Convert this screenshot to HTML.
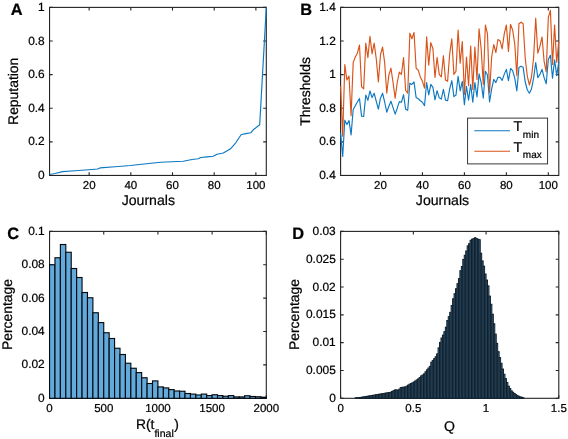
<!DOCTYPE html>
<html lang="en">
<head>
<meta charset="utf-8">
<title>Figure</title>
<style>html,body{margin:0;padding:0;background:#fff}body{width:568px;height:439px;overflow:hidden}svg{display:block}text{text-rendering:geometricPrecision;stroke:#000;stroke-width:0.22px;paint-order:stroke}</style>
</head>
<body>
<svg width="568" height="439" viewBox="0 0 568 439" font-family='"Liberation Sans", "DejaVu Sans", sans-serif' fill="#000">
<rect width="568" height="439" fill="#fff"/>
<g id="panelA">
<rect x="49.55" y="7.4" width="216.75" height="168.05" fill="none" stroke="#242424" stroke-width="1.1"/>
<path d="M89.15 175.45v-3.1M89.15 7.4v3.1M130.83 175.45v-3.1M130.83 7.4v3.1M172.51 175.45v-3.1M172.51 7.4v3.1M214.2 175.45v-3.1M214.2 7.4v3.1M255.88 175.45v-3.1M255.88 7.4v3.1M49.55 175.45h3.1M266.3 175.45h-3.1M49.55 141.84h3.1M266.3 141.84h-3.1M49.55 108.23h3.1M266.3 108.23h-3.1M49.55 74.62h3.1M266.3 74.62h-3.1M49.55 41.01h3.1M266.3 41.01h-3.1M49.55 7.4h3.1M266.3 7.4h-3.1" fill="none" stroke="#242424" stroke-width="1.1"/>
<g font-size="11.5" text-anchor="middle">
<text x="89.15" y="189.4">20</text>
<text x="130.83" y="189.4">40</text>
<text x="172.51" y="189.4">60</text>
<text x="214.2" y="189.4">80</text>
<text x="255.88" y="189.4">100</text>
</g>
<g font-size="11.9" text-anchor="end">
<text x="44.7" y="178.95">0</text>
<text x="44.7" y="145.34">0.2</text>
<text x="44.7" y="111.73">0.4</text>
<text x="44.7" y="78.12">0.6</text>
<text x="44.7" y="44.51">0.8</text>
<text x="44.7" y="10.9">1</text>
</g>
<path d="M49.6 174.55L55 173.5L62.5 171.6L75 170.7L88.75 169.8L97.5 169.05L100 167.9L115 166.7L130.5 165.55L141.75 164.2L160.75 162.3L172 161.8L183.25 161.3L192 159.5L198.25 158.8L200.75 157.5L207 156.9L213.25 156.3L217 154.2L223.25 153.05L230.25 149.05L235.75 142.8L241.25 134.55L246 133.6L250.75 132.8L253.25 129.8L259.7 124.8L266.3 7.4" fill="none" stroke="#0c78c2" stroke-width="1.15" stroke-linejoin="round" stroke-linecap="butt"/>
<text transform="translate(18.2 91.3) rotate(-90)" font-size="13.9" text-anchor="middle">Reputation</text>
<text x="148.3" y="205" font-size="14.1" text-anchor="middle">Journals</text>
<text x="10.8" y="14.6" font-size="16.4" font-weight="bold" fill="#000">A</text>
</g>
<g id="panelB">
<rect x="340.6" y="7.4" width="218.2" height="168.05" fill="none" stroke="#242424" stroke-width="1.1"/>
<path d="M380.46 175.45v-3.1M380.46 7.4v3.1M422.43 175.45v-3.1M422.43 7.4v3.1M464.39 175.45v-3.1M464.39 7.4v3.1M506.35 175.45v-3.1M506.35 7.4v3.1M548.31 175.45v-3.1M548.31 7.4v3.1M340.6 175.45h3.1M558.8 175.45h-3.1M340.6 141.84h3.1M558.8 141.84h-3.1M340.6 108.23h3.1M558.8 108.23h-3.1M340.6 74.62h3.1M558.8 74.62h-3.1M340.6 41.01h3.1M558.8 41.01h-3.1M340.6 7.4h3.1M558.8 7.4h-3.1" fill="none" stroke="#242424" stroke-width="1.1"/>
<g font-size="11.5" text-anchor="middle">
<text x="380.46" y="189.4">20</text>
<text x="422.43" y="189.4">40</text>
<text x="464.39" y="189.4">60</text>
<text x="506.35" y="189.4">80</text>
<text x="548.31" y="189.4">100</text>
</g>
<g font-size="11.9" text-anchor="end">
<text x="335.75" y="178.95">0.4</text>
<text x="335.75" y="145.34">0.6</text>
<text x="335.75" y="111.73">0.8</text>
<text x="335.75" y="78.12">1</text>
<text x="335.75" y="44.51">1.2</text>
<text x="335.75" y="10.9">1.4</text>
</g>
<path d="M340.6 133L342.7 156.4L344.8 120.2L346.89 124.5L348.99 120.4L351.09 135L353.19 109.5L355.29 105.7L357.38 102L359.48 98.6L361.58 116.1L363.68 116.4L365.78 95L367.88 100.4L369.97 90.9L372.07 97.6L374.17 93.2L376.27 101.3L378.37 109.1L380.46 98.2L382.56 93.2L384.66 102L386.76 112.2L388.86 106.3L390.95 101.3L393.05 107.6L395.15 114.1L397.25 108.2L399.35 101.6L401.44 102.3L403.54 94.7L405.64 109.2L407.74 110.3L409.84 83.2L411.93 84.4L414.03 81.9L416.13 97.6L418.23 98.8L420.33 100.7L422.43 102.3L424.52 105.7L426.62 82.5L428.72 94.8L430.82 84.4L432.92 87.3L435.01 99.8L437.11 90.7L439.21 97.8L441.31 99.1L443.41 89.4L445.5 100.1L447.6 100.7L449.7 88.8L451.8 80.7L453.9 96.6L455.99 95.1L458.09 76.3L460.19 90.9L462.29 81.3L464.39 104.8L466.48 86.3L468.58 100.1L470.68 84.4L472.78 102.2L474.88 82.5L476.98 97L479.07 73.8L481.17 82.6L483.27 98.2L485.37 71.3L487.47 75L489.56 102L491.66 88.8L493.76 79.4L495.86 82.6L497.96 77.3L500.05 77.3L502.15 80.4L504.25 74.4L506.35 69.4L508.45 80.7L510.54 68.5L512.64 70.7L514.74 78.2L516.84 91L518.94 67.5L521.03 66.3L523.13 67.2L525.23 82L527.33 90L529.43 93.2L531.52 88.8L533.62 78.2L535.72 62.5L537.82 77.6L539.92 74.4L542.02 69.4L544.11 77.6L546.21 83.8L548.31 59.4L550.41 55.3L552.51 78.2L554.6 59.8L556.7 75.7L558.8 61.9" fill="none" stroke="#0c78c2" stroke-width="1.15" stroke-linejoin="round" stroke-linecap="butt"/>
<path d="M340.6 86L342.7 136.3L344.8 64.5L346.89 80L348.99 76L351.09 115.7L353.19 62.6L355.29 57L357.38 53.2L359.48 45L361.58 86.9L363.68 88.8L365.78 43.2L367.88 57.6L369.97 36.3L372.07 53.8L374.17 43.2L376.27 58.8L378.37 81.9L380.46 55L382.56 47L384.66 62.6L386.76 93.2L388.86 75L390.95 68.2L393.05 82.5L395.15 98.2L397.25 82.5L399.35 72L401.44 74.5L403.54 57.6L405.64 90.5L407.74 93.2L409.84 33.2L411.93 38.8L414.03 32.5L416.13 68.2L418.23 70.1L420.33 76.9L422.43 81.3L424.52 88.2L426.62 36.9L428.72 65.1L430.82 42.6L432.92 48.8L435.01 77.5L437.11 57.3L439.21 74.4L441.31 76.9L443.41 55.7L445.5 80L447.6 81.3L449.7 53.8L451.8 38.8L453.9 74.4L455.99 71.3L458.09 30L460.19 63.2L462.29 41.5L464.39 94.4L466.48 57L468.58 85.7L470.68 46L472.78 89.4L474.88 47L476.98 79.4L479.07 28.8L481.17 48.8L483.27 84.4L485.37 25L487.47 33.8L489.56 92.6L491.66 57L493.76 44.5L495.86 52.6L497.96 39.5L500.05 40.7L502.15 48.9L504.25 33.8L506.35 25L508.45 51.4L510.54 24.4L512.64 30L514.74 43.8L516.84 75.7L518.94 23.8L521.03 22.2L523.13 23.8L525.23 58.2L527.33 76.3L529.43 85L531.52 77L533.62 57.5L535.72 18.2L537.82 53.2L539.92 46.4L542.02 37L544.11 61.3L546.21 72L548.31 17.5L550.41 10.3L552.51 64.4L554.6 25L556.7 62.5L558.8 41.3" fill="none" stroke="#d95319" stroke-width="1.15" stroke-linejoin="round" stroke-linecap="butt"/>
<rect x="467.6" y="118.1" width="80" height="45.8" fill="#fff" stroke="#242424" stroke-width="0.9"/>
<path d="M474.3 130.75H510" stroke="#0c78c2" stroke-width="1.15"/>
<path d="M474.3 151.25H510" stroke="#d95319" stroke-width="1.15"/>
<text x="513.6" y="131" font-size="14.2">T<tspan font-size="10" dy="6.6" dx="0.6">min</tspan></text>
<text x="513.6" y="151.6" font-size="14.2">T<tspan font-size="10" dy="6.6" dx="0.6">max</tspan></text>
<text transform="translate(309.5 91.5) rotate(-90)" font-size="13.9" text-anchor="middle">Thresholds</text>
<text x="442.5" y="205" font-size="14.1" text-anchor="middle">Journals</text>
<text x="300.2" y="14.6" font-size="16.4" font-weight="bold" fill="#000">B</text>
</g>
<g id="panelC">
<rect x="49.55" y="231.4" width="216.75" height="166.9" fill="none" stroke="#242424" stroke-width="1.1"/>
<path d="M49.55 398.3v-3.1M49.55 231.4v3.1M103.74 398.3v-3.1M103.74 231.4v3.1M157.93 398.3v-3.1M157.93 231.4v3.1M212.11 398.3v-3.1M212.11 231.4v3.1M266.3 398.3v-3.1M266.3 231.4v3.1M49.55 398.3h3.1M266.3 398.3h-3.1M49.55 364.92h3.1M266.3 364.92h-3.1M49.55 331.54h3.1M266.3 331.54h-3.1M49.55 298.16h3.1M266.3 298.16h-3.1M49.55 264.78h3.1M266.3 264.78h-3.1M49.55 231.4h3.1M266.3 231.4h-3.1" fill="none" stroke="#242424" stroke-width="1.1"/>
<g fill="#62a9dc" stroke="#05090d" stroke-width="1.12">
<rect x="49.55" y="264.75" width="5.42" height="133.55"/>
<rect x="54.97" y="257.75" width="5.42" height="140.55"/>
<rect x="60.39" y="244.5" width="5.42" height="153.8"/>
<rect x="65.81" y="252.25" width="5.42" height="146.05"/>
<rect x="71.22" y="268.5" width="5.42" height="129.8"/>
<rect x="76.64" y="277.5" width="5.42" height="120.8"/>
<rect x="82.06" y="292.5" width="5.42" height="105.8"/>
<rect x="87.48" y="297.75" width="5.42" height="100.55"/>
<rect x="92.9" y="312.75" width="5.42" height="85.55"/>
<rect x="98.32" y="322.6" width="5.42" height="75.7"/>
<rect x="103.74" y="332.75" width="5.42" height="65.55"/>
<rect x="109.16" y="338.5" width="5.42" height="59.8"/>
<rect x="114.58" y="348.25" width="5.42" height="50.05"/>
<rect x="119.99" y="354.5" width="5.42" height="43.8"/>
<rect x="125.41" y="363.25" width="5.42" height="35.05"/>
<rect x="130.83" y="368.25" width="5.42" height="30.05"/>
<rect x="136.25" y="372.6" width="5.42" height="25.7"/>
<rect x="141.67" y="377.75" width="5.42" height="20.55"/>
<rect x="147.09" y="383.5" width="5.42" height="14.8"/>
<rect x="152.51" y="380.9" width="5.42" height="17.4"/>
<rect x="157.93" y="386.9" width="5.42" height="11.4"/>
<rect x="163.34" y="387.9" width="5.42" height="10.4"/>
<rect x="168.76" y="389.6" width="5.42" height="8.7"/>
<rect x="174.18" y="391" width="5.42" height="7.3"/>
<rect x="179.6" y="391.25" width="5.42" height="7.05"/>
<rect x="185.02" y="393.5" width="5.42" height="4.8"/>
<rect x="190.44" y="394.1" width="5.42" height="4.2"/>
<rect x="195.86" y="395" width="5.42" height="3.3"/>
<rect x="201.27" y="394.1" width="5.42" height="4.2"/>
<rect x="206.69" y="395.6" width="5.42" height="2.7"/>
<rect x="212.11" y="394.75" width="5.42" height="3.55"/>
<rect x="217.53" y="395.6" width="5.42" height="2.7"/>
<rect x="222.95" y="396.25" width="5.42" height="2.05"/>
<rect x="228.37" y="395.6" width="5.42" height="2.7"/>
<rect x="233.79" y="396.9" width="5.42" height="1.4"/>
<rect x="239.21" y="396.9" width="5.42" height="1.4"/>
<rect x="244.62" y="395.75" width="5.42" height="2.55"/>
<rect x="250.04" y="396.5" width="5.42" height="1.8"/>
<rect x="255.46" y="396.75" width="5.42" height="1.55"/>
<rect x="260.88" y="397.2" width="5.42" height="1.1"/>
</g>
<g font-size="11.5" text-anchor="middle">
<text x="49.55" y="412.25">0</text>
<text x="103.74" y="412.25">500</text>
<text x="157.93" y="412.25">1000</text>
<text x="212.11" y="412.25">1500</text>
<text x="266.3" y="412.25">2000</text>
</g>
<g font-size="11.9" text-anchor="end">
<text x="44.7" y="401.8">0</text>
<text x="44.7" y="368.42">0.02</text>
<text x="44.7" y="335.04">0.04</text>
<text x="44.7" y="301.66">0.06</text>
<text x="44.7" y="268.28">0.08</text>
<text x="44.7" y="234.9">0.1</text>
</g>
<text transform="translate(11.6 314.5) rotate(-90)" font-size="13.9" text-anchor="middle">Percentage</text>
<text x="157.4" y="429.4" font-size="13.9" text-anchor="middle">R(t<tspan font-size="10.5" dy="7.4">final</tspan><tspan dy="-7.4" dx="0.5">)</tspan></text>
<text x="7.3" y="239.2" font-size="16.4" font-weight="bold" fill="#000">C</text>
</g>
<g id="panelD">
<rect x="340.6" y="231.4" width="218.2" height="166.9" fill="none" stroke="#242424" stroke-width="1.1"/>
<path d="M340.6 398.3v-3.1M340.6 231.4v3.1M413.33 398.3v-3.1M413.33 231.4v3.1M486.07 398.3v-3.1M486.07 231.4v3.1M558.8 398.3v-3.1M558.8 231.4v3.1M340.6 398.3h3.1M558.8 398.3h-3.1M340.6 370.48h3.1M558.8 370.48h-3.1M340.6 342.67h3.1M558.8 342.67h-3.1M340.6 314.85h3.1M558.8 314.85h-3.1M340.6 287.03h3.1M558.8 287.03h-3.1M340.6 259.22h3.1M558.8 259.22h-3.1M340.6 231.4h3.1M558.8 231.4h-3.1" fill="none" stroke="#242424" stroke-width="1.1"/>
<g fill="#3a6a8c" stroke="#101e2a" stroke-width="0.97">
<rect x="355.15" y="397.81" width="1.45" height="0.49"/>
<rect x="356.6" y="397.72" width="1.45" height="0.58"/>
<rect x="358.06" y="397.64" width="1.45" height="0.66"/>
<rect x="359.51" y="397.47" width="1.45" height="0.83"/>
<rect x="360.97" y="397.23" width="1.45" height="1.07"/>
<rect x="362.42" y="396.98" width="1.45" height="1.32"/>
<rect x="363.87" y="396.74" width="1.45" height="1.56"/>
<rect x="365.33" y="396.49" width="1.45" height="1.81"/>
<rect x="366.78" y="396.25" width="1.45" height="2.05"/>
<rect x="368.24" y="396.01" width="1.45" height="2.29"/>
<rect x="369.69" y="395.76" width="1.45" height="2.54"/>
<rect x="371.15" y="395.52" width="1.45" height="2.78"/>
<rect x="372.6" y="395.26" width="1.45" height="3.04"/>
<rect x="374.06" y="395.01" width="1.45" height="3.29"/>
<rect x="375.51" y="394.75" width="1.45" height="3.55"/>
<rect x="376.97" y="394.5" width="1.45" height="3.8"/>
<rect x="378.42" y="394.25" width="1.45" height="4.05"/>
<rect x="379.88" y="393.99" width="1.45" height="4.31"/>
<rect x="381.33" y="393.74" width="1.45" height="4.56"/>
<rect x="382.79" y="393.49" width="1.45" height="4.81"/>
<rect x="384.24" y="393.24" width="1.45" height="5.06"/>
<rect x="385.69" y="392.99" width="1.45" height="5.31"/>
<rect x="387.15" y="392.74" width="1.45" height="5.56"/>
<rect x="388.6" y="392.49" width="1.45" height="5.81"/>
<rect x="390.06" y="392.22" width="1.45" height="6.08"/>
<rect x="391.51" y="391.45" width="1.45" height="6.85"/>
<rect x="392.97" y="390.68" width="1.45" height="7.62"/>
<rect x="394.42" y="389.91" width="1.45" height="8.39"/>
<rect x="395.88" y="389.88" width="1.45" height="8.42"/>
<rect x="397.33" y="390.35" width="1.45" height="7.95"/>
<rect x="398.79" y="389.07" width="1.45" height="9.23"/>
<rect x="400.24" y="387.56" width="1.45" height="10.74"/>
<rect x="401.7" y="387.32" width="1.45" height="10.98"/>
<rect x="403.15" y="387.14" width="1.45" height="11.16"/>
<rect x="404.61" y="386.95" width="1.45" height="11.35"/>
<rect x="406.06" y="386.15" width="1.45" height="12.15"/>
<rect x="407.51" y="385.12" width="1.45" height="13.18"/>
<rect x="408.97" y="384.22" width="1.45" height="14.08"/>
<rect x="410.42" y="383.51" width="1.45" height="14.79"/>
<rect x="411.88" y="382.8" width="1.45" height="15.5"/>
<rect x="413.33" y="381.91" width="1.45" height="16.39"/>
<rect x="414.79" y="380.89" width="1.45" height="17.41"/>
<rect x="416.24" y="379.87" width="1.45" height="18.43"/>
<rect x="417.7" y="378.84" width="1.45" height="19.46"/>
<rect x="419.15" y="377.51" width="1.45" height="20.79"/>
<rect x="420.61" y="375.89" width="1.45" height="22.41"/>
<rect x="422.06" y="375.02" width="1.45" height="23.28"/>
<rect x="423.52" y="373.82" width="1.45" height="24.48"/>
<rect x="424.97" y="371.79" width="1.45" height="26.51"/>
<rect x="426.43" y="369.79" width="1.45" height="28.51"/>
<rect x="427.88" y="368.06" width="1.45" height="30.24"/>
<rect x="429.33" y="366.33" width="1.45" height="31.97"/>
<rect x="430.79" y="362.16" width="1.45" height="36.14"/>
<rect x="432.24" y="360.42" width="1.45" height="37.88"/>
<rect x="433.7" y="358.62" width="1.45" height="39.68"/>
<rect x="435.15" y="356.73" width="1.45" height="41.57"/>
<rect x="436.61" y="353.83" width="1.45" height="44.47"/>
<rect x="438.06" y="347.83" width="1.45" height="50.47"/>
<rect x="439.52" y="342.41" width="1.45" height="55.89"/>
<rect x="440.97" y="338.01" width="1.45" height="60.29"/>
<rect x="442.43" y="335.1" width="1.45" height="63.2"/>
<rect x="443.88" y="331.69" width="1.45" height="66.61"/>
<rect x="445.34" y="327.2" width="1.45" height="71.1"/>
<rect x="446.79" y="320.5" width="1.45" height="77.8"/>
<rect x="448.25" y="316.64" width="1.45" height="81.66"/>
<rect x="449.7" y="312.33" width="1.45" height="85.97"/>
<rect x="451.15" y="305.45" width="1.45" height="92.85"/>
<rect x="452.61" y="298.76" width="1.45" height="99.54"/>
<rect x="454.06" y="293.72" width="1.45" height="104.58"/>
<rect x="455.52" y="288.69" width="1.45" height="109.61"/>
<rect x="456.97" y="283.65" width="1.45" height="114.65"/>
<rect x="458.43" y="278.61" width="1.45" height="119.69"/>
<rect x="459.88" y="270.7" width="1.45" height="127.6"/>
<rect x="461.34" y="266.48" width="1.45" height="131.82"/>
<rect x="462.79" y="259.43" width="1.45" height="138.87"/>
<rect x="464.25" y="255.24" width="1.45" height="143.06"/>
<rect x="465.7" y="250.98" width="1.45" height="147.32"/>
<rect x="467.16" y="245.87" width="1.45" height="152.43"/>
<rect x="468.61" y="243.68" width="1.45" height="154.62"/>
<rect x="470.07" y="240.32" width="1.45" height="157.98"/>
<rect x="471.52" y="239.2" width="1.45" height="159.1"/>
<rect x="472.97" y="238.62" width="1.45" height="159.68"/>
<rect x="474.43" y="237.7" width="1.45" height="160.6"/>
<rect x="475.88" y="238.62" width="1.45" height="159.68"/>
<rect x="477.34" y="239.19" width="1.45" height="159.11"/>
<rect x="478.79" y="239.67" width="1.45" height="158.63"/>
<rect x="480.25" y="253.17" width="1.45" height="145.13"/>
<rect x="481.7" y="260.91" width="1.45" height="137.39"/>
<rect x="483.16" y="266.15" width="1.45" height="132.15"/>
<rect x="484.61" y="274.01" width="1.45" height="124.29"/>
<rect x="486.07" y="280.08" width="1.45" height="118.22"/>
<rect x="487.52" y="285.83" width="1.45" height="112.47"/>
<rect x="488.98" y="296.09" width="1.45" height="102.21"/>
<rect x="490.43" y="304.26" width="1.45" height="94.04"/>
<rect x="491.89" y="314.22" width="1.45" height="84.08"/>
<rect x="493.34" y="323.77" width="1.45" height="74.53"/>
<rect x="494.79" y="334.12" width="1.45" height="64.18"/>
<rect x="496.25" y="343.36" width="1.45" height="54.94"/>
<rect x="497.7" y="351.66" width="1.45" height="46.64"/>
<rect x="499.16" y="357.55" width="1.45" height="40.75"/>
<rect x="500.61" y="363.29" width="1.45" height="35.01"/>
<rect x="502.07" y="369.04" width="1.45" height="29.26"/>
<rect x="503.52" y="374.23" width="1.45" height="24.07"/>
<rect x="504.98" y="378.6" width="1.45" height="19.7"/>
<rect x="506.43" y="382.47" width="1.45" height="15.83"/>
<rect x="507.89" y="386.1" width="1.45" height="12.2"/>
<rect x="509.34" y="388.5" width="1.45" height="9.8"/>
<rect x="510.8" y="390.85" width="1.45" height="7.45"/>
<rect x="512.25" y="392.26" width="1.45" height="6.04"/>
<rect x="513.71" y="393.48" width="1.45" height="4.82"/>
<rect x="515.16" y="394.61" width="1.45" height="3.69"/>
<rect x="516.61" y="395.47" width="1.45" height="2.83"/>
<rect x="518.07" y="396.32" width="1.45" height="1.98"/>
<rect x="519.52" y="396.87" width="1.45" height="1.43"/>
<rect x="520.98" y="397.27" width="1.45" height="1.03"/>
<rect x="522.43" y="397.67" width="1.45" height="0.63"/>
</g>
<g font-size="11.5" text-anchor="middle">
<text x="340.6" y="412.25">0</text>
<text x="413.33" y="412.25">0.5</text>
<text x="486.07" y="412.25">1</text>
<text x="558.8" y="412.25">1.5</text>
</g>
<g font-size="11.9" text-anchor="end">
<text x="335.75" y="401.8">0</text>
<text x="335.75" y="373.98">0.005</text>
<text x="335.75" y="346.17">0.01</text>
<text x="335.75" y="318.35">0.015</text>
<text x="335.75" y="290.53">0.02</text>
<text x="335.75" y="262.72">0.025</text>
<text x="335.75" y="234.9">0.03</text>
</g>
<text transform="translate(299.3 314.5) rotate(-90)" font-size="13.9" text-anchor="middle">Percentage</text>
<text x="449.5" y="431.2" font-size="14.1" text-anchor="middle">Q</text>
<text x="292.2" y="239.2" font-size="16.4" font-weight="bold" fill="#000">D</text>
</g>
</svg>
</body>
</html>
